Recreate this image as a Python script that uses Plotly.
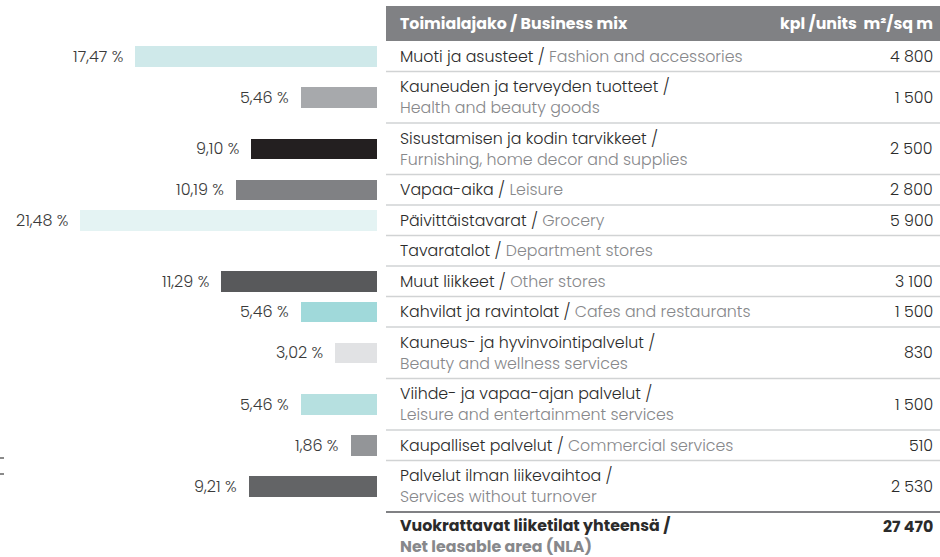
import plotly.graph_objects as go

W, H = 940, 557

# --- data ---
fi_labels = [
    "Muoti ja asusteet", "Kauneuden ja terveyden tuotteet", "Sisustamisen ja kodin tarvikkeet",
    "Vapaa-aika", "Päivittäistavarat", "Tavaratalot", "Muut liikkeet",
    "Kahvilat ja ravintolat", "Kauneus- ja hyvinvointipalvelut", "Viihde- ja vapaa-ajan palvelut",
    "Kaupalliset palvelut", "Palvelut ilman liikevaihtoa",
]
en_labels = [
    "Fashion and accessories", "Health and beauty goods", "Furnishing, home decor and supplies",
    "Leisure", "Grocery", "Department stores", "Other stores",
    "Cafes and restaurants", "Beauty and wellness services", "Leisure and entertainment services",
    "Commercial services", "Services without turnover",
]
two_line = [False, True, True, False, False, False, False, False, True, True, False, True]
shares = [17.47, 5.46, 9.10, 10.19, 21.48, None, 11.29, 5.46, 3.02, 5.46, 1.86, 9.21]
share_text = ["17,47 %", "5,46 %", "9,10 %", "10,19 %", "21,48 %", "", "11,29 %",
              "5,46 %", "3,02 %", "5,46 %", "1,86 %", "9,21 %"]
area_text = ["4 800", "1 500", "2 500", "2 800", "5 900", "", "3 100",
             "1 500", "830", "1 500", "510", "2 530"]
bar_colors = ["#cfe9ea", "#a7a9ac", "#231f20", "#808184", "#e4f3f3", "#ffffff", "#58595b",
              "#a0d9da", "#e1e2e4", "#b6e0e0", "#939598", "#636466"]
total_fi = "Vuokrattavat liiketilat yhteensä /"
total_en = "Net leasable area (NLA)"
total_area = "27 470"

FONT = "Poppins, Inter, sans-serif"
DARK = "#2b2b2b"
GREY = "#87888b"

# row layout (pixel units on a reversed y axis)
header_top, header_bot = 6, 41
row_h = [51.5 if t else 30.5 for t in two_line]
tops = []
y = header_bot
for h in row_h:
    tops.append(y)
    y += h
table_bottom = y
centers = [t + h / 2 for t, h in zip(tops, row_h)]

bar_right = 377
px_per_pct = 13.85
table_left = 386
text_left = 398
num_right = 935

fig = go.Figure()
fig.add_trace(go.Bar(
    y=centers, x=[s if s else 0 for s in shares], orientation="h",
    width=20.5, marker=dict(color=bar_colors, line=dict(width=0)),
    hoverinfo="skip", showlegend=False,
))

ann = []
for c, s, t in zip(centers, shares, share_text):
    if s:
        ann.append(dict(x=s, y=c, xref="x", yref="y", text=t, showarrow=False,
                        xanchor="right", yanchor="middle", xshift=-10,
                        font=dict(family=FONT, size=16, color="#3a3a3a", weight=300)))

shapes = [dict(type="rect", xref="paper", yref="y", x0=table_left / W, x1=1,
               y0=header_top, y1=header_bot, fillcolor="#808184", line=dict(width=0), layer="below")]

for top, h, fi, en, two, num in zip(tops, row_h, fi_labels, en_labels, two_line, area_text):
    sep = "<br>" if two else " "
    label = f"{fi} /{sep}<span style='color:{GREY}'>{en}</span>"
    ann.append(dict(x=text_left / W, y=top + h / 2, xref="paper", yref="y", text=label,
                    showarrow=False, xanchor="left", yanchor="middle", align="left",
                    font=dict(family=FONT, size=15.8, color=DARK, weight=300)))
    if num:
        ann.append(dict(x=num_right / W, y=top + h / 2, xref="paper", yref="y", text=num,
                        showarrow=False, xanchor="right", yanchor="middle",
                        font=dict(family=FONT, size=15.8, color=DARK, weight=300)))
    if top > header_bot:
        shapes.append(dict(type="line", xref="paper", yref="y", x0=table_left / W, x1=1,
                           y0=top, y1=top, line=dict(color="#d1d3d4", width=1.5)))

shapes.append(dict(type="line", xref="paper", yref="y", x0=table_left / W, x1=1,
                   y0=table_bottom, y1=table_bottom, line=dict(color="#808184", width=2)))
# small edge marks at far left
for yy in (458, 474):
    shapes.append(dict(type="line", xref="paper", yref="y", x0=0, x1=4 / W,
                       y0=yy, y1=yy, line=dict(color="#8a8a8a", width=2)))

ann.append(dict(x=text_left / W, y=(header_top + header_bot) / 2, xref="paper", yref="y",
                text="<b>Toimialajako / Business mix</b>", showarrow=False,
                xanchor="left", yanchor="middle",
                font=dict(family=FONT, size=15.8, color="white")))
ann.append(dict(x=num_right / W, y=(header_top + header_bot) / 2, xref="paper", yref="y",
                text="<b>kpl /units  m²/sq m</b>", showarrow=False,
                xanchor="right", yanchor="middle",
                font=dict(family=FONT, size=15.8, color="white")))
ann.append(dict(x=text_left / W, y=table_bottom + 24, xref="paper", yref="y",
                text=f"<b>{total_fi}<br><span style='color:{GREY}'>{total_en}</span></b>",
                showarrow=False, xanchor="left", yanchor="middle", align="left",
                font=dict(family=FONT, size=15.8, color=DARK)))
ann.append(dict(x=num_right / W, y=table_bottom + 14, xref="paper", yref="y",
                text=f"<b>{total_area}</b>", showarrow=False, xanchor="right", yanchor="middle",
                font=dict(family=FONT, size=15.8, color=DARK)))

fig.update_layout(
    width=W, height=H, margin=dict(l=0, r=0, t=0, b=0),
    paper_bgcolor="white", plot_bgcolor="white",
    xaxis=dict(domain=[0, bar_right / W], range=[bar_right / px_per_pct, 0],
               visible=False, fixedrange=True),
    yaxis=dict(domain=[0, 1], range=[H, 0], visible=False, fixedrange=True),
    annotations=ann, shapes=shapes, bargap=0,
)

fig.write_html("out.html", config={"displayModeBar": False},
               post_script="document.body.style.margin='0';document.body.style.overflow='hidden';")
